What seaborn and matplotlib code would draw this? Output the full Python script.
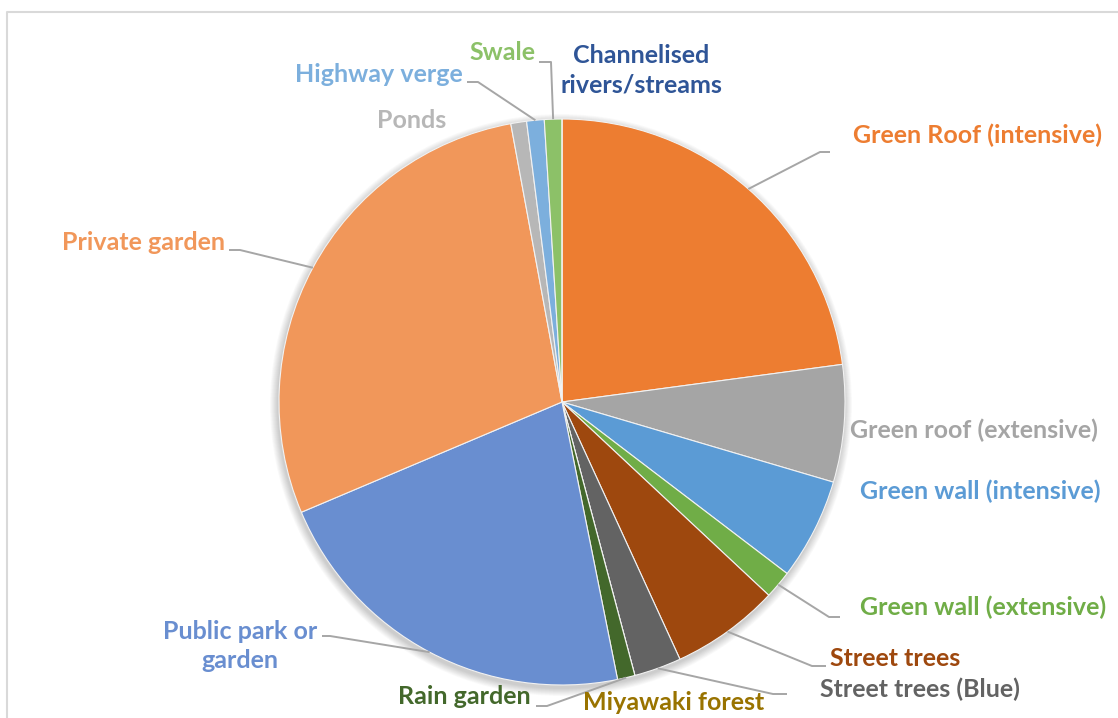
import numpy as np
import matplotlib
matplotlib.use("Agg")
import matplotlib.pyplot as plt
import seaborn as sns
from matplotlib.patches import Circle

sns.set_theme(style="white")
plt.rcParams["font.family"] = ["Lato", "DejaVu Sans"]

# Share of green infrastructure types (%), clockwise from 12 o'clock
categories = [
    "Green Roof (intensive)", "Green roof (extensive)", "Green wall (intensive)",
    "Green wall (extensive)", "Street trees", "Street trees (Blue)",
    "Miyawaki forest", "Rain garden", "Public park or\ngarden", "Private garden",
    "Ponds", "Highway verge", "Swale", "Channelised\nrivers/streams",
]
values = [22.9, 6.7, 5.8, 1.6, 6.2, 2.7, 0.0, 1.0, 21.8, 28.5, 0.9, 1.0, 1.0, 0.0]
slice_colors = [
    "#ED7D31", "#A5A5A5", "#5B9BD5", "#70AD47", "#9E480E", "#636363",
    "#997300", "#43682B", "#698ED0", "#F1975A", "#B7B7B7", "#7CAFDD",
    "#8CC168", "#264478",
]
label_colors = [
    "#ED7D31", "#A5A5A5", "#5B9BD5", "#70AD47", "#9E480E", "#636363",
    "#997300", "#43682B", "#698ED0", "#F1975A", "#B7B7B7", "#7CAFDD",
    "#8CC168", "#2F5597",
]

W, H = 1118, 718
fig = plt.figure(figsize=(W / 100, H / 100), dpi=100)
ax = fig.add_axes([0, 0, 1, 1])

def py(y):
    return H - y

cx, cy, R = 562, py(402), 283

wedges, _ = ax.pie(values, colors=slice_colors, startangle=90, counterclock=False,
                   center=(cx, cy), radius=R,
                   wedgeprops=dict(edgecolor="#F2F2F2", linewidth=0.8))
for w in wedges:
    w.set_zorder(2)

ax.set_xlim(0, W)
ax.set_ylim(0, H)
ax.set_aspect("equal")
ax.axis("off")

# chart frame
ax.plot([7, 7, W + 5], [-5, py(12), py(12)], color="#D9D9D9", lw=1.5, zorder=0)

# soft drop shadow under the pie
for k in range(10, 0, -1):
    ax.add_patch(Circle((cx - 1, cy - 3), R + k * 0.8, color="black",
                        alpha=0.018, lw=0, zorder=1))

# label layout: text position (px), alignment, leader elbow points (px) or None
layout = {
    "Green Roof (intensive)": ((853, 135), "left", [(830, 152), (820, 152)]),
    "Green roof (extensive)": ((850, 430), "left", None),
    "Green wall (intensive)": ((860, 491), "left", None),
    "Green wall (extensive)": ((860, 607), "left", [(840, 617), (829, 617)]),
    "Street trees": ((830, 658), "left", [(826, 666), (812, 666)]),
    "Street trees (Blue)": ((820, 689), "left", [(787, 694), (773, 694)]),
    "Miyawaki forest": ((674, 703), "center", None),
    "Rain garden": ((531, 697), "right", [(536, 706), (547, 706)]),
    "Public park or\ngarden": ((240, 646), "center", [(322, 636), (330, 636)]),
    "Private garden": ((225, 242), "right", [(229, 250), (240, 250)]),
    "Ponds": ((412, 121), "center", None),
    "Highway verge": ((463, 75), "right", [(467, 82), (478, 82)]),
    "Swale": ((535, 53), "right", [(539, 62), (551, 62)]),
    "Channelised\nrivers/streams": ((641, 70), "center", None),
}

for name, val, w, col in zip(categories, values, wedges, label_colors):
    (tx, ty), ha, leader = layout[name]
    ax.text(tx, py(ty), name, ha=ha, va="center", color=col, fontsize=18,
            fontweight="bold", linespacing=1.35, zorder=4)
    if leader is not None:
        mid = np.deg2rad((w.theta1 + w.theta2) / 2)
        ex, ey = cx + R * np.cos(mid), cy + R * np.sin(mid)
        (x1, y1), (x2, y2) = leader
        ax.plot([x1, x2, ex], [py(y1), py(y2), ey], color="#A6A6A6", lw=1.4,
                zorder=3, solid_capstyle="butt")

fig.savefig("out.png", dpi=100, facecolor="white")
